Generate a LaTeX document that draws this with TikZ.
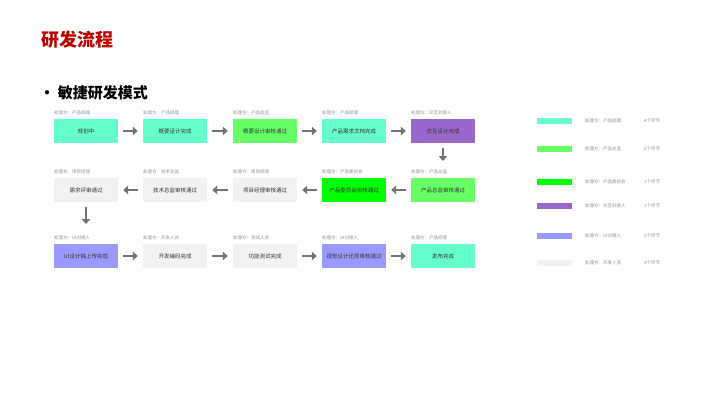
\documentclass[tikz,border=0pt]{standalone}
\usepackage{fontspec}
\setmainfont{Noto Sans CJK SC}
\usetikzlibrary{arrows.meta}
\definecolor{cA}{HTML}{66FFCC}
\definecolor{cB}{HTML}{66FF66}
\definecolor{cC}{HTML}{00FF00}
\definecolor{cD}{HTML}{9966CC}
\definecolor{cE}{HTML}{9999FF}
\definecolor{cF}{HTML}{F2F2F2}
\definecolor{tred}{HTML}{C00000}
\begin{document}
\begin{tikzpicture}[x=1pt,y=-1pt,
  stepbox/.style={minimum width=64pt,minimum height=24pt,inner sep=0pt,font=\fontsize{5.5}{6}\selectfont,text=black!80},
  lbl/.style={anchor=south west,inner sep=0pt,font=\fontsize{4.5}{5}\selectfont,text=black!45},
  flow/.style={-{Triangle[length=5pt,width=8.5pt]},line width=2.6pt,draw=black!55,shorten <=5pt,shorten >=5pt},
  lgbar/.style={minimum width=35pt,minimum height=5.5pt,inner sep=0pt},
  lgtxt/.style={anchor=west,inner sep=0pt,font=\fontsize{4.5}{5}\selectfont,text=black!45}]
\useasboundingbox[fill=white] (0,0) rectangle (720,405);
\node[anchor=west,text=tred,font=\fontsize{18}{21}\selectfont\bfseries] (title) at (38,40) {研发流程};
\node[anchor=west,font=\fontsize{15}{18}\selectfont\bfseries] (bullet) at (36,93) {• 敏捷研发模式};
% row 1
\node[stepbox,fill=cA] (a1) at (86,131) {规划中};
\node[stepbox,fill=cA] (a2) at (175,131) {概要设计完成};
\node[stepbox,fill=cB] (a3) at (265,131) {概要设计审核通过};
\node[stepbox,fill=cA] (a4) at (354,131) {产品需求文档完成};
\node[stepbox,fill=cD] (a5) at (443,131) {交互设计完成};
% row 2
\node[stepbox,fill=cF] (b1) at (86,190) {需求评审通过};
\node[stepbox,fill=cF] (b2) at (175,190) {技术总监审核通过};
\node[stepbox,fill=cF] (b3) at (265,190) {项目经理审核通过};
\node[stepbox,fill=cC] (b4) at (354,190) {产品委员会审核通过};
\node[stepbox,fill=cB] (b5) at (443,190) {产品总监审核通过};
% row 3
\node[stepbox,fill=cE] (c1) at (86,256) {UI设计稿上传完成};
\node[stepbox,fill=cF] (c2) at (175,256) {开发编码完成};
\node[stepbox,fill=cF] (c3) at (265,256) {功能测试完成};
\node[stepbox,fill=cE] (c4) at (354,256) {视觉设计还原审核通过};
\node[stepbox,fill=cA] (c5) at (443,256) {发布完成};
% labels
\foreach \n/\t in {a1/产品经理,a2/产品经理,a3/产品总监,a4/产品经理,a5/交互对接人,
  b1/项目经理,b2/技术总监,b3/项目经理,b4/产品委员会,b5/产品总监,
  c1/UI对接人,c2/开发人员,c3/测试人员,c4/UI对接人,c5/产品经理}
  \node[lbl] (l\n) at ([yshift=4pt]\n.north west) {处理方：\t};
\coordinate (d1) at (443,161);
\coordinate (d2) at (86,224);
% arrows
\draw[flow] (a1.east) -- (a2.west);
\draw[flow] (a2.east) -- (a3.west);
\draw[flow] (a3.east) -- (a4.west);
\draw[flow] (a4.east) -- (a5.west);
\draw[flow,shorten >=0pt] (a5.south) -- (d1);
\draw[flow] (b5.west) -- (b4.east);
\draw[flow] (b4.west) -- (b3.east);
\draw[flow] (b3.west) -- (b2.east);
\draw[flow] (b2.west) -- (b1.east);
\draw[flow,shorten >=0pt] (b1.south) -- (d2);
\draw[flow] (c1.east) -- (c2.west);
\draw[flow] (c2.east) -- (c3.west);
\draw[flow] (c3.east) -- (c4.west);
\draw[flow] (c4.east) -- (c5.west);
% legend
\foreach \i/\c/\y/\t/\k in {1/cA/121/产品经理/4,2/cB/149/产品总监/2,3/cC/182/产品委员会/1,4/cD/206/交互对接人/1,5/cE/236/UI对接人/2,6/cF/263/开发人员/4}{
  \node[lgbar,fill=\c] (g\i) at (554.5,\y) {};
  \node[lgtxt] (gt\i) at (585,\y) {处理方：\t};
  \node[lgtxt] (gk\i) at (644,\y) {\k 个环节};
}
\end{tikzpicture}
\end{document}
